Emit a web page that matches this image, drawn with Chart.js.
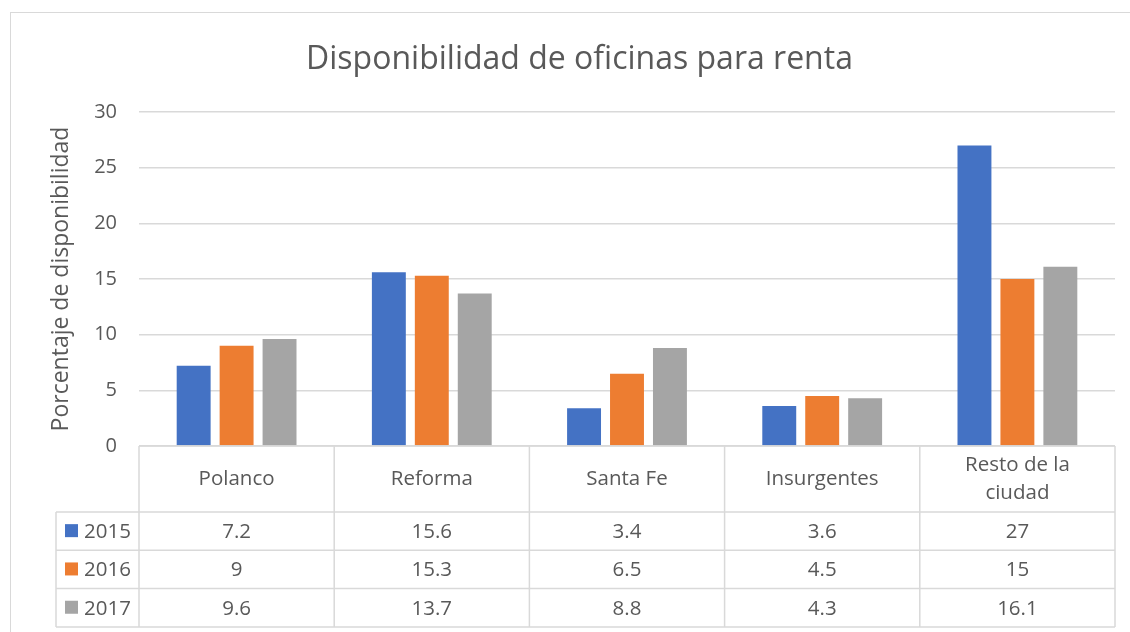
<!DOCTYPE html>
<html>
<head>
<meta charset="utf-8">
<script src="https://cdn.jsdelivr.net/npm/chart.js@4.4.1/dist/chart.umd.min.js"></script>
<style>
  html, body { margin: 0; padding: 0; background: #ffffff; }
  #wrap { width: 1130px; height: 632px; position: relative; }
</style>
</head>
<body>
<div id="wrap"><canvas id="c" width="1130" height="632"></canvas></div>
<script>
const categories = ['Polanco', 'Reforma', 'Santa Fe', 'Insurgentes', ['Resto de la', 'ciudad']];
const seriesNames = ['2015', '2016', '2017'];
const values2015 = [7.2, 15.6, 3.4, 3.6, 27];
const values2016 = [9, 15.3, 6.5, 4.5, 15];
const values2017 = [9.6, 13.7, 8.8, 4.3, 16.1];
const colors = ['#4472C4', '#ED7D31', '#A5A5A5'];
const yTicks = [0, 5, 10, 15, 20, 25, 30];

const FONT = '"Open Sans", Lato, sans-serif';
const TXT = '#595959';
const LINE = '#d9d9d9';

const seriesValues = [values2015, values2016, values2017];

const tablePlugin = {
  id: 'dataTable',
  afterDraw(chart) {
    const ctx = chart.ctx;
    const x = chart.scales.x;
    const area = chart.chartArea;
    const n = categories.length;
    const catW = (area.right - area.left) / n;
    const top = area.bottom;
    const headerH = 66;
    const rowH = 38.3;
    const legendLeft = 56;
    const bottom = top + headerH + rowH * seriesNames.length;
    ctx.save();
    ctx.strokeStyle = LINE;
    ctx.lineWidth = 1.5;
    ctx.beginPath();
    ctx.moveTo(area.left, top); ctx.lineTo(area.right, top);
    for (let r = 0; r <= seriesNames.length; r++) {
      const yy = top + headerH + r * rowH;
      ctx.moveTo(legendLeft, yy); ctx.lineTo(area.right, yy);
    }
    for (let i = 0; i <= n; i++) {
      const xx = area.left + i * catW;
      ctx.moveTo(xx, top); ctx.lineTo(xx, bottom);
    }
    ctx.moveTo(legendLeft, top + headerH); ctx.lineTo(legendLeft, bottom);
    ctx.stroke();

    ctx.fillStyle = TXT;
    ctx.font = '20.5px ' + FONT;
    ctx.textAlign = 'center';
    ctx.textBaseline = 'middle';
    categories.forEach((lab, i) => {
      const cx = x.getPixelForValue(i);
      const lines = Array.isArray(lab) ? lab : [lab];
      const lh = 28;
      const cy = top + headerH / 2;
      lines.forEach((l, k) => {
        ctx.fillText(l, cx, cy + (k - (lines.length - 1) / 2) * lh);
      });
    });
    seriesNames.forEach((name, r) => {
      const cy = top + headerH + r * rowH + rowH / 2;
      ctx.fillStyle = colors[r];
      ctx.fillRect(legendLeft + 9, cy - 7, 13, 13);
      ctx.fillStyle = TXT;
      ctx.textAlign = 'left';
      ctx.fillText(name, legendLeft + 28, cy + 1);
      ctx.textAlign = 'center';
      seriesValues[r].forEach((v, i) => {
        ctx.fillText(String(v), x.getPixelForValue(i), cy + 1);
      });
    });
    ctx.strokeStyle = LINE;
    ctx.lineWidth = 1;
    ctx.strokeRect(10.5, 12.5, 1200, 700);
    ctx.restore();
  }
};

new Chart(document.getElementById('c'), {
  type: 'bar',
  data: {
    labels: categories,
    datasets: seriesNames.map((name, i) => ({
      label: name,
      data: seriesValues[i],
      backgroundColor: colors[i],
      borderWidth: 0,
      categoryPercentage: 0.66,
      barPercentage: 0.79
    }))
  },
  options: {
    responsive: false,
    animation: false,
    devicePixelRatio: 1,
    layout: { padding: { left: 44, right: 15, top: 12, bottom: 186 } },
    plugins: {
      legend: { display: false },
      tooltip: { enabled: false },
      title: {
        display: true,
        text: 'Disponibilidad de oficinas para renta',
        color: TXT,
        font: { family: FONT, size: 32, weight: 'normal' },
        padding: { top: 29, bottom: 32.6 }
      }
    },
    scales: {
      x: {
        display: false
      },
      y: {
        min: 0,
        max: 30,
        afterBuildTicks(scale) { scale.ticks = yTicks.map(v => ({ value: v })); },
        afterFit(scale) { scale.width = 95; },
        ticks: { color: TXT, font: { family: FONT, size: 20 }, padding: 22 },
        grid: { color: LINE, lineWidth: 1.5, drawTicks: false },
        border: { display: false },
        title: {
          display: true,
          text: 'Porcentaje de disponibilidad',
          color: TXT,
          font: { family: FONT, size: 23, weight: 'normal' },
          padding: { top: 4, bottom: 4 }
        }
      }
    }
  },
  plugins: [tablePlugin]
});
</script>
</body>
</html>
